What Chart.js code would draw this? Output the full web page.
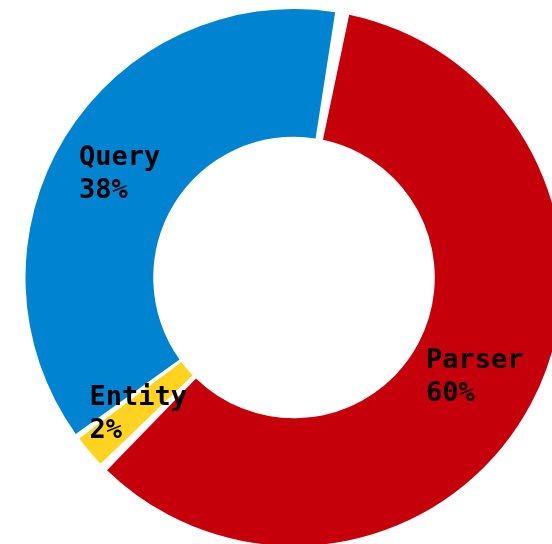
<!DOCTYPE html>
<html>
<head>
<meta charset="utf-8">
<script src="https://cdn.jsdelivr.net/npm/chart.js@4"></script>
<style>
    html, body { margin: 0; padding: 0; background: #ffffff; overflow: hidden; }
    body { width: 552px; height: 544px; position: relative; }
    #chartBox { position: absolute; left: 0; top: 9px; width: 588px; height: 537px; }
</style>
</head>
<body>
<div id="chartBox"><canvas id="modulesChart"></canvas></div>
<script>
// Répartition par module
const categories = ['Parser', 'Entity', 'Query'];
const shares = [60, 2, 38];
const sliceColors = ['#c5000b', '#ffd320', '#0084d1'];

// Étiquettes "nom + pourcentage" au centre de chaque tranche
const sliceLabels = {
    id: 'sliceLabels',
    afterDatasetsDraw(chart) {
        const ctx = chart.ctx;
        const meta = chart.getDatasetMeta(0);
        ctx.save();
        ctx.font = 'bold 27px "DejaVu Sans Mono"';
        ctx.fillStyle = '#000000';
        ctx.textBaseline = 'middle';
        ctx.textAlign = 'left';
        const lineHeight = 33;
        meta.data.forEach((arc, i) => {
            const pos = arc.tooltipPosition();
            const lines = [categories[i], shares[i] + '%'];
            const w = Math.max(...lines.map(l => ctx.measureText(l).width));
            const top = pos.y + 4 - (lines.length - 1) * lineHeight / 2;
            lines.forEach((line, k) => {
                ctx.fillText(line, pos.x - w / 2, top + k * lineHeight);
            });
        });
        ctx.restore();
    }
};

new Chart(document.getElementById('modulesChart'), {
    type: 'doughnut',
    data: {
        labels: categories,
        datasets: [{
            data: shares,
            backgroundColor: sliceColors,
            borderWidth: 0,
            spacing: 7
        }]
    },
    options: {
        responsive: true,
        maintainAspectRatio: false,
        animation: false,
        rotation: 10,
        cutout: '51.8%',
        layout: { padding: 0 },
        plugins: {
            legend: { display: false },
            tooltip: { enabled: false }
        }
    },
    plugins: [sliceLabels]
});
</script>
</body>
</html>
